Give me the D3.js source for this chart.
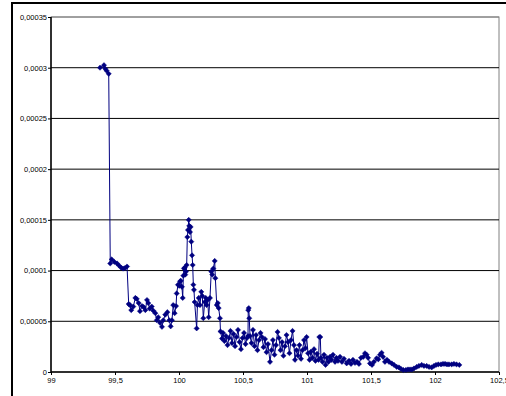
<!DOCTYPE html>
<html>
<head>
<meta charset="utf-8">
<script src="https://cdn.jsdelivr.net/npm/d3@7"></script>
<style>
    body { margin: 0; background: #fff; overflow: hidden; }
    text { font-family: Arial, "Liberation Sans", sans-serif; }
</style>
</head>
<body>
<div class="chart"></div>
<script>
// price on the x axis
var xValues = [
    99.383, 99.414, 99.424, 99.435, 99.451,
    99.463, 99.474, 99.495, 99.516, 99.531, 99.547, 99.563, 99.578, 99.594,
    99.607, 99.617, 99.627, 99.643, 99.659, 99.670, 99.685, 99.695, 99.711, 99.724,
    99.737, 99.750, 99.760, 99.771, 99.787, 99.799, 99.815, 99.826, 99.838, 99.852,
    99.867, 99.877, 99.893, 99.909, 99.924, 99.935, 99.945, 99.955, 99.966, 99.977,
    99.982, 99.992, 100.002, 100.008, 100.013, 100.023, 100.029, 100.034, 100.039, 100.045,
    100.049, 100.055, 100.060, 100.065, 100.070, 100.076, 100.080, 100.086, 100.091, 100.096,
    100.102, 100.107, 100.112, 100.117, 100.122, 100.138, 100.144, 100.154, 100.164, 100.174,
    100.182, 100.190, 100.201, 100.209, 100.216, 100.224, 100.232, 100.242, 100.252, 100.260,
    100.268, 100.279, 100.284, 100.295, 100.303, 100.310, 100.320, 100.324, 100.336, 100.344,
    100.355, 100.367, 100.379, 100.391, 100.402, 100.414, 100.426, 100.438, 100.449, 100.461,
    100.473, 100.484, 100.496, 100.508, 100.520, 100.531, 100.539, 100.541, 100.545, 100.549,
    100.555, 100.566, 100.578, 100.590, 100.602, 100.613, 100.625, 100.637, 100.648, 100.660,
    100.672, 100.684, 100.695, 100.711, 100.723, 100.734, 100.746, 100.758, 100.770, 100.781,
    100.793, 100.805, 100.816, 100.828, 100.840, 100.852, 100.863, 100.875, 100.887, 100.898,
    100.906, 100.918, 100.930, 100.941, 100.953, 100.965, 100.977, 100.988, 100.997, 101.008,
    101.020, 101.031, 101.043, 101.055, 101.066, 101.078, 101.090, 101.096, 101.104, 101.109,
    101.121, 101.133, 101.145, 101.156, 101.168, 101.180, 101.191, 101.203, 101.219, 101.230,
    101.242, 101.258, 101.273, 101.289, 101.310, 101.328, 101.344, 101.359, 101.375, 101.391,
    101.406, 101.422, 101.440, 101.453, 101.466, 101.477, 101.492, 101.508, 101.523, 101.544,
    101.557, 101.570, 101.583, 101.594, 101.609, 101.625, 101.641, 101.662, 101.680, 101.701,
    101.719, 101.734, 101.752, 101.773, 101.789, 101.805, 101.820, 101.836, 101.857, 101.875,
    101.896, 101.914, 101.935, 101.953, 101.974, 101.992, 102.008, 102.026, 102.047, 102.063,
    102.078, 102.094, 102.109, 102.130, 102.148, 102.168, 102.190
];

// values in units of 0.00001
var yValues = [
    30.0, 30.25, 29.9, 29.7, 29.4,
    10.7, 11.1, 10.85, 10.7, 10.5, 10.3, 10.2, 10.25, 10.4,
    6.7, 6.6, 6.1, 6.45, 7.3, 7.2, 6.8, 6.0, 6.5, 6.4,
    6.1, 7.1, 6.8, 6.25, 6.45, 6.05, 5.8, 5.1, 5.4, 4.85,
    4.45, 5.1, 5.65, 5.9, 5.1, 4.5, 5.1, 6.6, 5.8, 6.5,
    7.75, 8.6, 8.5, 8.9, 9.0, 8.4, 7.3, 9.5, 10.2, 10.3,
    9.6, 9.9, 10.55, 13.3, 14.0, 15.0, 14.4, 13.8, 14.3, 12.85,
    11.5, 10.55, 8.6, 8.1, 6.9, 4.3, 6.6, 7.3, 6.6, 7.9,
    7.5, 5.3, 6.9, 7.3, 6.6, 7.1, 5.4, 7.3, 9.9, 9.6,
    10.2, 10.95, 9.25, 6.6, 6.8, 6.3, 5.3, 4.0, 3.3, 3.85,
    3.05, 3.55, 2.65, 3.35, 4.05, 2.85, 3.75, 2.55, 3.45, 4.15,
    2.95, 2.25, 3.35, 3.85, 2.75, 3.35, 3.55, 6.1, 6.3, 5.3,
    3.55, 2.85, 4.15, 2.55, 3.65, 2.15, 3.15, 3.85, 3.45, 2.45,
    3.25, 1.95, 2.75, 1.0, 2.15, 3.15, 1.7, 2.65, 3.95, 3.35,
    2.15, 2.95, 1.6, 2.55, 3.65, 2.95, 1.85, 3.15, 4.05, 2.65,
    1.2, 2.15, 1.6, 2.65, 1.3, 2.15, 3.15, 2.35, 3.45, 1.85,
    1.2, 2.0, 1.4, 2.25, 1.1, 1.8, 1.2, 3.45, 3.45, 1.4,
    1.0, 1.7, 0.7, 1.4, 1.0, 1.5, 1.2, 1.7, 1.0, 1.4,
    1.1, 1.5, 1.0, 1.3, 0.85, 1.1, 0.8, 1.2, 0.9, 1.0,
    0.8, 1.4, 1.5, 1.85, 1.7, 1.4, 0.85, 0.7, 1.0, 1.35,
    1.25, 1.7, 1.9, 1.5, 1.0, 1.2, 1.0, 0.85, 0.7, 0.5,
    0.45, 0.3, 0.2, 0.2, 0.25, 0.25, 0.25, 0.35, 0.5, 0.6,
    0.7, 0.6, 0.6, 0.5, 0.45, 0.6, 0.7, 0.75, 0.75, 0.8,
    0.8, 0.75, 0.75, 0.75, 0.8, 0.75, 0.7
];

var xTicks = [99, 99.5, 100, 100.5, 101, 101.5, 102, 102.5];
var xTickLabels = ["99", "99,5", "100", "100,5", "101", "101,5", "102", "102,5"];
var yTicks = [0, 5, 10, 15, 20, 25, 30, 35];
var yTickLabels = ["0", "0,00005", "0,0001", "0,00015", "0,0002", "0,00025", "0,0003", "0,00035"];

(function(global, win, htmldoc){

    var width = 506, height = 396;
    var plot = { left: 51, top: 17, right: 499, bottom: 372 };
    var seriesColor = "#000080";

    var xScale = d3.scaleLinear().domain([99, 102.5]).range([plot.left, plot.right]);
    var yScale = d3.scaleLinear().domain([0, 35]).range([plot.bottom, plot.top]);

    var points = xValues.map(function(x, i) { return { x: x, y: yValues[i] }; });

    var svg = d3.select(".chart").append("svg")
                .attr("width", width)
                .attr("height", height);

    // outer chart frame (runs off the right and bottom edges)
    svg.append("rect")
       .attr("x", 12).attr("y", 3)
       .attr("width", 520).attr("height", 420)
       .attr("fill", "#fff")
       .attr("stroke", "#000")
       .attr("stroke-width", 2);

    // plot area border
    svg.append("rect")
       .attr("x", plot.left).attr("y", plot.top)
       .attr("width", plot.right - plot.left)
       .attr("height", plot.bottom - plot.top)
       .attr("fill", "#fff")
       .attr("stroke", "#808080")
       .attr("stroke-width", 1);

    // horizontal gridlines
    svg.append("g")
       .selectAll("line")
       .data(yTicks.slice(1))
       .enter()
       .append("line")
       .attr("x1", plot.left).attr("x2", plot.right)
       .attr("y1", function(d) { return yScale(d); })
       .attr("y2", function(d) { return yScale(d); })
       .attr("stroke", function(d, i) { return d === 35 ? "#808080" : "#000"; })
       .attr("stroke-width", 1);

    // axes
    var xAxis = d3.axisBottom(xScale)
                  .tickValues(xTicks)
                  .tickSize(3)
                  .tickFormat(function(d, i) { return xTickLabels[i]; });

    var yAxis = d3.axisLeft(yScale)
                  .tickValues(yTicks)
                  .tickSize(3)
                  .tickFormat(function(d, i) { return yTickLabels[i]; });

    var gx = svg.append("g")
                .attr("transform", "translate(0," + plot.bottom + ")")
                .call(xAxis);

    var gy = svg.append("g")
                .attr("transform", "translate(" + plot.left + ",0)")
                .call(yAxis);

    [gx, gy].forEach(function(g) {
        g.select(".domain").attr("stroke", "#000").attr("stroke-width", 1.5);
        g.selectAll(".tick line").attr("stroke", "#000");
        g.selectAll(".tick text")
         .attr("font-family", "Arial, 'Liberation Sans', sans-serif")
         .attr("font-size", 7.5)
         .attr("fill", "#000");
    });
    gx.select(".domain").attr("d", "M" + plot.left + ",0H" + plot.right);
    gy.select(".domain").attr("d", "M0," + plot.top + "V" + plot.bottom);
    gx.selectAll(".tick text").attr("dy", "0.71em").attr("y", 6);
    gy.selectAll(".tick text").attr("x", -4);

    // series line
    var line = d3.line()
                 .x(function(d) { return xScale(d.x); })
                 .y(function(d) { return yScale(d.y); });

    svg.append("path")
       .datum(points)
       .attr("d", line)
       .attr("fill", "none")
       .attr("stroke", seriesColor)
       .attr("stroke-width", 1);

    // diamond markers
    var diamond = "M0,-2.6L2.6,0L0,2.6L-2.6,0Z";
    svg.append("g")
       .selectAll("path")
       .data(points)
       .enter()
       .append("path")
       .attr("d", diamond)
       .attr("transform", function(d) {
           return "translate(" + xScale(d.x) + "," + yScale(d.y) + ")";
       })
       .attr("fill", seriesColor)
       .attr("stroke", seriesColor)
       .attr("stroke-width", 0.5);

})(this, window, document);
</script>
</body>
</html>
